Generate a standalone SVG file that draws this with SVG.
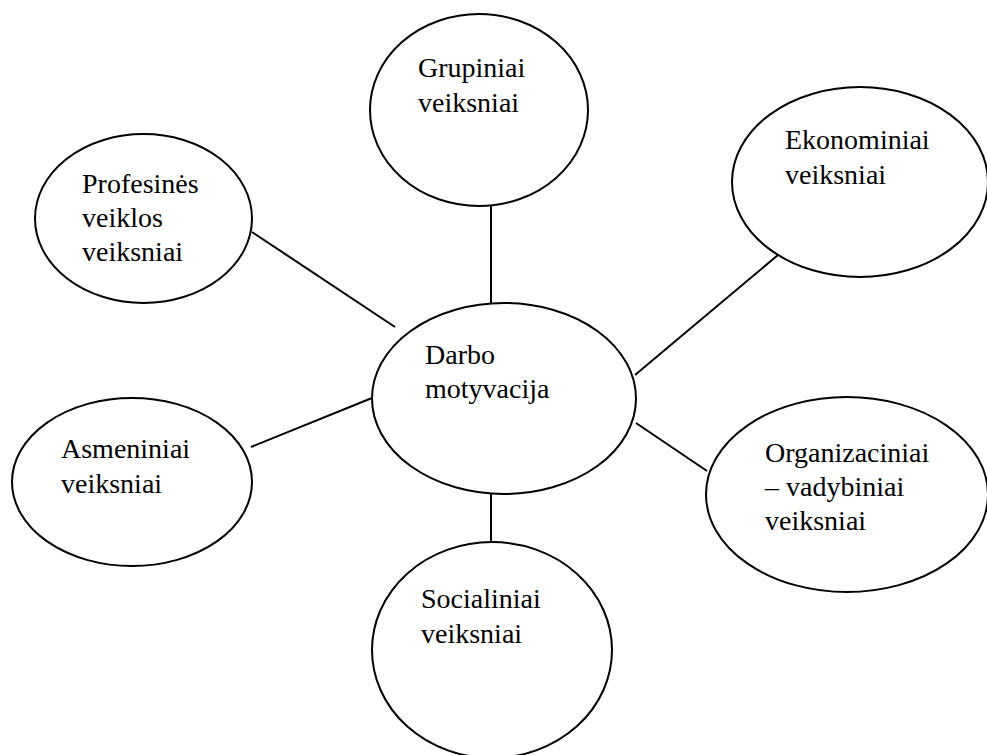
<svg xmlns="http://www.w3.org/2000/svg" width="987" height="755" viewBox="0 0 987 755">
<style>
.n{fill:#fff;stroke:#000;stroke-width:2}
.c line{stroke:#000;stroke-width:2}
text{font-family:"Liberation Serif","Times New Roman",serif;font-size:28px;fill:#000}
</style>
<rect width="987" height="755" fill="#fff"/>
<g class="c" id="connectors">
<line x1="491" y1="206" x2="491" y2="303"/>
<line x1="491" y1="494" x2="491" y2="542"/>
<line x1="252" y1="232" x2="395" y2="327"/>
<line x1="251" y1="447" x2="372" y2="398"/>
<line x1="635" y1="375" x2="778" y2="255"/>
<line x1="636" y1="423" x2="707" y2="471"/>
</g>
<g id="grupiniai"><ellipse class="n" cx="479" cy="110" rx="109" ry="96"/><text x="418" y="77">Grupiniai</text><text x="418" y="112">veiksniai</text></g>
<g id="ekonominiai"><ellipse class="n" cx="860" cy="182" rx="128" ry="95"/><text x="785" y="149">Ekonominiai</text><text x="785" y="184">veiksniai</text></g>
<g id="profesines"><ellipse class="n" cx="143.5" cy="218.5" rx="108.5" ry="84.5"/><text x="82" y="193">Profesinės</text><text x="82" y="227">veiklos</text><text x="82" y="261">veiksniai</text></g>
<g id="darbo"><ellipse class="n" cx="504" cy="398.5" rx="132" ry="95.5"/><text x="425" y="364">Darbo</text><text x="425" y="398">motyvacija</text></g>
<g id="asmeniniai"><ellipse class="n" cx="132" cy="482" rx="120" ry="84"/><text x="61" y="458">Asmeniniai</text><text x="61" y="493">veiksniai</text></g>
<g id="organizaciniai"><ellipse class="n" cx="847" cy="494.5" rx="141" ry="97.5"/><text x="765" y="462">Organizaciniai</text><text x="765" y="496">– vadybiniai</text><text x="765" y="530">veiksniai</text></g>
<g id="socialiniai"><ellipse class="n" cx="492" cy="650" rx="120" ry="108"/><text x="421" y="608">Socialiniai</text><text x="421" y="643">veiksniai</text></g>
</svg>
